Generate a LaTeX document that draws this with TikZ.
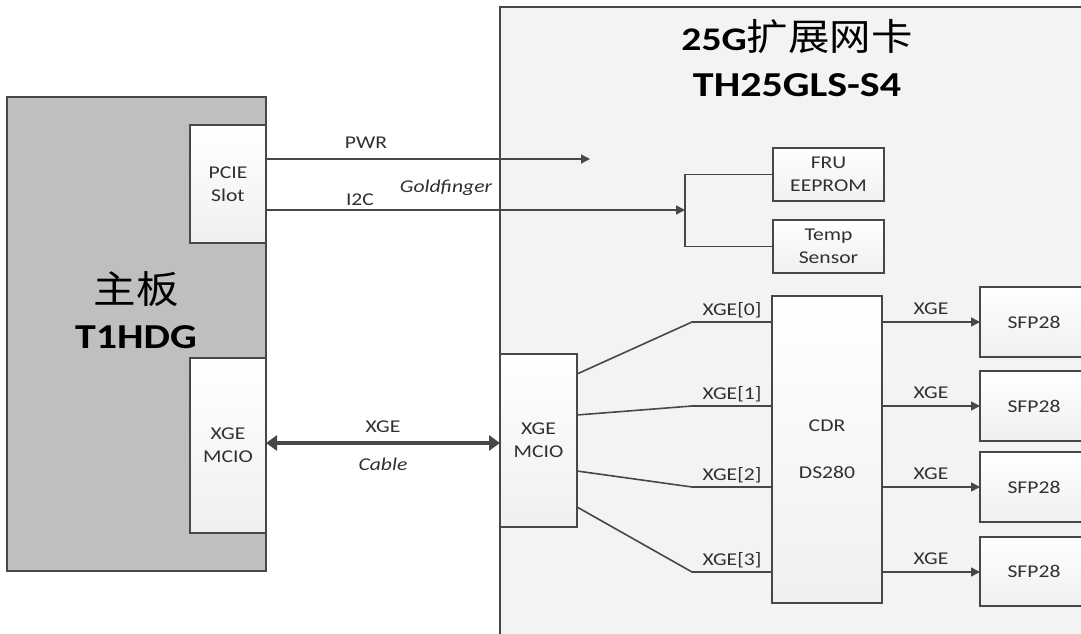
\documentclass[tikz,border=0pt]{standalone}
\usepackage{fontspec}
\setmainfont[FakeStretch=1.2]{Carlito}
\newfontfamily\cjk[FakeStretch=1.12]{Noto Sans CJK SC}
\usetikzlibrary{arrows.meta,calc}
\definecolor{wirec}{HTML}{474747}
\definecolor{boardc}{HTML}{BFBFBF}
\definecolor{nicc}{HTML}{F3F3F3}
\definecolor{txtc}{HTML}{303030}
\begin{document}
\begin{tikzpicture}[x=1pt,y=-1pt,
  every node/.style={inner sep=0pt, outer sep=0pt},
  blk/.style={draw=wirec, line width=1.5pt, top color=white, bottom color=gray!12, anchor=north west, text=txtc, align=center, font=\fontsize{18}{23}\selectfont},
  wire/.style={draw=wirec, line width=1.6pt},
  arr/.style={wire, -{Triangle[length=9pt,width=9pt]}},
  lbl/.style={text=txtc, font=\fontsize{18}{20}\selectfont},
  ilbl/.style={text=txtc, font=\fontsize{18}{20}\selectfont\itshape}]
\useasboundingbox (0,0) rectangle (1081,634);
\clip (0,0) rectangle (1081,634);
\fill[white] (0,0) rectangle (1081,634);

% main board
\node[draw=wirec, line width=1.5pt, fill=boardc, anchor=north west, minimum width=259pt, minimum height=474pt] (board) at (7,97) {};
\node[text=black, font=\cjk\fontsize{38}{40}\selectfont] (boardcn) at (136,289) {主板};
\node[text=black, font=\bfseries\fontsize{35}{38}\selectfont] (boardid) at (136,337) {T1HDG};
\node[blk, minimum width=76pt, minimum height=118pt] (pcie) at (190,125) {PCIE\\Slot};
\node[blk, minimum width=76pt, minimum height=175pt] (mcioL) at (190,358) {XGE\\MCIO};

% NIC
\node[draw=wirec, line width=1.5pt, fill=nicc, anchor=north west, minimum width=620pt, minimum height=660pt] (nic) at (500,7) {};
\node[text=black, font=\bfseries\fontsize{33}{36}\selectfont] (title1) at (797,37) {25G{\cjk\mdseries\fontsize{37}{38}\selectfont 扩展网卡}};
\node[text=black, font=\bfseries\fontsize{35}{38}\selectfont] (title2) at (797,85) {TH25GLS-S4};

\node[blk, minimum width=111pt, minimum height=53pt] (fru) at (773,148) {FRU\\EEPROM};
\node[blk, minimum width=111pt, minimum height=53pt] (temp) at (773,220) {Temp\\Sensor};
\node[blk, minimum width=77pt, minimum height=173pt] (mcioR) at (500,354) {XGE\\MCIO};
\node[blk, minimum width=110pt, minimum height=307pt, font=\fontsize{18}{47}\selectfont] (cdr) at (772,296) {CDR\\DS280};
\node[blk, minimum width=108pt, minimum height=70pt] (sfp0) at (980,287) {SFP28};
\node[blk, minimum width=108pt, minimum height=70pt] (sfp1) at (980,371) {SFP28};
\node[blk, minimum width=108pt, minimum height=70pt] (sfp2) at (980,452) {SFP28};
\node[blk, minimum width=108pt, minimum height=69pt] (sfp3) at (980,537) {SFP28};

% PWR and I2C
\coordinate (pwrEnd) at (590,159);
\coordinate (bus) at (685,210);
\draw[arr] (pcie.east |- pwrEnd) -- (pwrEnd);
\node[lbl] (pwrl) at (366,143) {PWR};
\draw[arr] (pcie.east |- bus) -- (bus);
\node[lbl] (i2cl) at (360,200) {I2C};
\node[ilbl] (gold) at (446,188) {Goldfinger};
\draw[wire] (fru.west) -| (bus) |- (temp.west);

% cable
\draw[draw=wirec, line width=4pt, {Triangle[length=11pt,width=15pt]}-{Triangle[length=11pt,width=15pt]}] (mcioL.east |- 0,443) -- (mcioR.west |- 0,443);
\node[lbl] (xgel) at (383,427) {XGE};
\node[ilbl] (cable) at (383,464) {Cable};

% fan-out to CDR
\coordinate (b0) at (692,322);
\coordinate (b1) at (692,406);
\coordinate (b2) at (692,487);
\coordinate (b3) at (692,572);
\draw[wire] (mcioR.east |- 0,374) -- (b0) -- (b0 -| cdr.west) node[midway, above=4pt, lbl] {XGE[0]};
\draw[wire] (mcioR.east |- 0,415) -- (b1) -- (b1 -| cdr.west) node[midway, above=4pt, lbl] {XGE[1]};
\draw[wire] (mcioR.east |- 0,471) -- (b2) -- (b2 -| cdr.west) node[midway, above=4pt, lbl] {XGE[2]};
\draw[wire] (mcioR.east |- 0,507) -- (b3) -- (b3 -| cdr.west) node[midway, above=4pt, lbl] {XGE[3]};

% CDR to SFP28
\draw[arr] (cdr.east |- 0,322) -- (sfp0.west |- 0,322) node[midway, above=7pt, lbl] {XGE};
\draw[arr] (cdr.east |- 0,406) -- (sfp1.west |- 0,406) node[midway, above=7pt, lbl] {XGE};
\draw[arr] (cdr.east |- 0,487) -- (sfp2.west |- 0,487) node[midway, above=7pt, lbl] {XGE};
\draw[arr] (cdr.east |- 0,572) -- (sfp3.west |- 0,572) node[midway, above=7pt, lbl] {XGE};
\end{tikzpicture}
\end{document}
